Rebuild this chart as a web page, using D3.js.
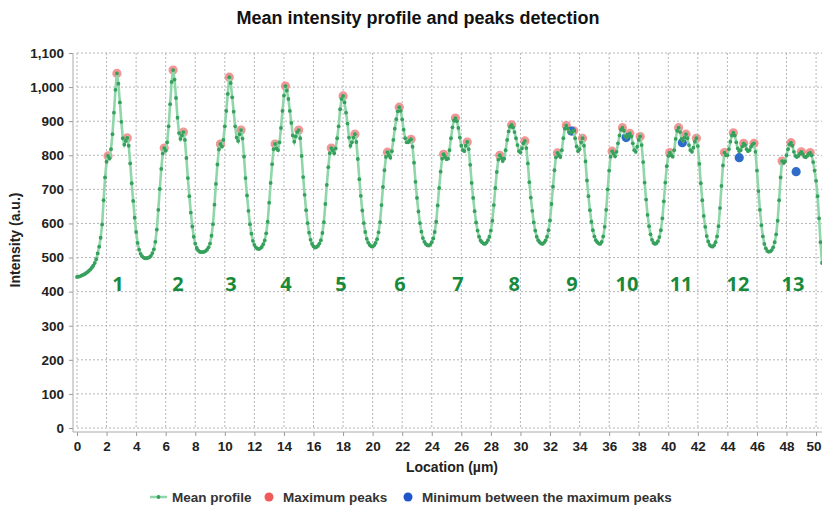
<!DOCTYPE html>
<html>
<head>
<meta charset="utf-8">
<script src="https://cdnjs.cloudflare.com/ajax/libs/d3/7.8.5/d3.min.js"></script>
<style>
  body { margin: 0; background: #fff; }
  svg { display: block; font-family: "Liberation Sans", Arial, sans-serif; }
</style>
</head>
<body>
<svg id="chart" width="822" height="505"></svg>
<script>
// SAMPLING STEP OF THE PROFILE (um)
const step = 0.1;

// MEAN INTENSITY, ONE VALUE EVERY 0.1 um FROM 0 TO 50.4
const intensity = [
  443, 444, 445, 447, 449, 451, 454, 457, 461, 465,
  470, 476, 484, 495, 512, 532, 558, 597, 668, 735,
  781, 798, 791, 818, 862, 925, 992, 1040, 1010, 955,
  898, 850, 831, 842, 851, 828, 776, 718, 666, 617,
  575, 543, 523, 511, 504, 500, 498, 498, 499, 501,
  505, 513, 524, 546, 582, 640, 701, 760, 805, 821,
  814, 838, 885, 950, 1015, 1050, 1022, 968, 910, 865,
  848, 858, 868, 845, 792, 733, 680, 632, 591, 561,
  541, 528, 521, 517, 516, 516, 517, 519, 523, 530,
  541, 564, 598, 655, 716, 773, 817, 833, 826, 845,
  885, 930, 980, 1029, 1012, 970, 928, 885, 852, 842,
  862, 874, 849, 796, 733, 682, 637, 598, 570, 549,
  537, 530, 526, 525, 527, 531, 539, 550, 571, 605,
  661, 719, 774, 818, 833, 820, 815, 838, 880, 930,
  975, 1003, 990, 965, 930, 895, 858, 840, 855, 868,
  874, 850, 798, 736, 684, 639, 601, 573, 552, 540,
  533, 529, 531, 534, 541, 551, 572, 604, 657, 713,
  765, 806, 821, 815, 806, 820, 850, 885, 935, 965,
  974, 955, 925, 893, 852, 828, 838, 852, 862, 839,
  789, 730, 681, 638, 601, 575, 555, 544, 537, 533,
  532, 536, 543, 554, 574, 604, 654, 707, 756, 795,
  809, 800, 793, 812, 845, 878, 906, 929, 941, 930,
  905, 875, 850, 838, 838, 843, 847, 825, 778, 722,
  675, 635, 601, 576, 557, 546, 540, 536, 535, 538,
  545, 556, 575, 605, 653, 704, 752, 790, 803, 795,
  788, 790, 815, 850, 882, 902, 909, 900, 880, 852,
  828, 815, 812, 828, 839, 818, 772, 719, 675, 636,
  603, 579, 561, 550, 545, 541, 540, 544, 551, 561,
  579, 608, 654, 704, 751, 787, 800, 792, 783, 790,
  815, 845, 870, 884, 889, 882, 868, 850, 830, 812,
  808, 820, 835, 842, 821, 776, 721, 676, 637, 603,
  579, 561, 551, 545, 541, 540, 544, 550, 561, 580,
  609, 657, 708, 756, 794, 807, 800, 795, 815, 850,
  878, 887, 878, 868, 866, 869, 872, 850, 826, 812,
  818, 838, 850, 828, 782, 726, 680, 639, 605, 580,
  562, 551, 545, 541, 540, 546, 562, 590, 640, 700,
  755, 796, 812, 805, 797, 810, 835, 858, 875, 881,
  872, 856, 852, 858, 864, 855, 835, 815, 810, 825,
  845, 855, 830, 780, 720, 670, 625, 592, 568, 552,
  543, 540, 542, 548, 560, 580, 615, 665, 720, 768,
  798, 808, 800, 796, 815, 848, 872, 881, 868, 848,
  842, 852, 862, 850, 830, 815, 810, 822, 840, 850,
  827, 775, 718, 668, 622, 590, 563, 547, 537, 533,
  532, 536, 545, 562, 592, 645, 710, 770, 808, 800,
  800, 818, 840, 858, 866, 858, 838, 820, 812, 815,
  826, 835, 830, 818, 812, 815, 825, 832, 835, 810,
  755, 695, 640, 595, 562, 540, 527, 519, 517, 518,
  522, 530, 545, 568, 608, 668, 735, 783, 778, 782,
  800, 818, 832, 837, 828, 810, 798, 795, 798, 805,
  810, 804, 796, 794, 798, 805, 808, 800, 780, 755,
  725, 680, 615, 545, 484
];

// MAXIMUM PEAKS
const maxPeakLoc = [2.1, 2.7, 3.4, 5.9, 6.5, 7.2, 9.7, 10.3, 11.1, 13.4, 14.1, 15.0,
  17.2, 18.0, 18.8, 21.0, 21.8, 22.6, 24.8, 25.6, 26.4, 28.6, 29.4, 30.3,
  32.5, 33.1, 33.6, 34.2, 36.2, 36.9, 37.4, 38.1, 40.1, 40.7, 41.2, 41.9,
  43.8, 44.4, 45.1, 45.8, 47.7, 48.3, 49.0, 49.6];
const maxPeakVal = [798, 1040, 851, 821, 1050, 868, 833, 1029, 874, 833, 1003, 874,
  821, 974, 862, 809, 941, 847, 803, 909, 839, 800, 889, 842,
  807, 887, 872, 850, 812, 881, 864, 855, 808, 881, 862, 850,
  808, 866, 835, 835, 783, 837, 810, 808];

// MINIMUM BETWEEN THE MAXIMUM PEAKS
const minPeakLoc = [33.45, 37.15, 40.95, 44.8, 48.65];
const minPeakVal = [871, 852, 837, 793, 752];

// NUMBERS WRITTEN UNDER EACH PEAK GROUP
const groupLabels = ["1", "2", "3", "4", "5", "6", "7", "8", "9", "10", "11", "12", "13"];
const groupLoc = [2.77, 6.83, 10.42, 14.14, 17.86, 21.85, 25.78, 29.57, 33.49, 37.21, 40.87, 44.72, 48.44];
const groupLevel = 425;

// AXIS TICKS
const xTicks = [0, 2, 4, 6, 8, 10, 12, 14, 16, 18, 20, 22, 24, 26, 28, 30, 32, 34, 36, 38, 40, 42, 44, 46, 48, 50];
const yTicks = [0, 100, 200, 300, 400, 500, 600, 700, 800, 900, 1000, 1100];

const legendItems = ["Mean profile", "Maximum peaks", "Minimum between the maximum peaks"];

drawChart();

function drawChart() {
  var left = 77, right = 822, top = 53, bottom = 428;
  var svg = d3.select("#chart");

  var x = d3.scaleLinear().domain([0, 50.4]).range([left, right]);
  var y = d3.scaleLinear().domain([0, 1100]).range([bottom, top]);

  var profile = intensity.map((v, i) => ({ loc: i * step, val: v }));

  //GRID
  var grid = svg.append("g");
  grid.selectAll(".vgrid").data(xTicks).enter().append("line")
    .attr("x1", (d) => x(d)).attr("x2", (d) => x(d))
    .attr("y1", top).attr("y2", bottom)
    .attr("stroke", "#b5b5b5").attr("stroke-dasharray", "2,2");
  grid.selectAll(".hgrid").data(yTicks).enter().append("line")
    .attr("x1", left).attr("x2", right)
    .attr("y1", (d) => y(d)).attr("y2", (d) => y(d))
    .attr("stroke", "#b5b5b5").attr("stroke-dasharray", "2,2");

  //AXES
  var xAxis = d3.axisBottom(x).tickValues(xTicks).tickSize(4).tickPadding(5).tickFormat(d3.format("d"));
  var yAxis = d3.axisLeft(y).tickValues(yTicks).tickSize(4).tickPadding(5).tickFormat(d3.format(","));

  var gx = svg.append("g").attr("transform", `translate(0, ${bottom + 4})`).call(xAxis);
  var gy = svg.append("g").attr("transform", `translate(${left - 4}, 0)`).call(yAxis);
  [gx, gy].forEach(function (g) {
    g.select(".domain").remove();
    g.selectAll(".tick line").attr("stroke", "#999");
    g.selectAll(".tick text")
      .attr("fill", "#222")
      .style("font-size", "13.5px")
      .style("font-weight", "bold")
      .style("font-family", '"Liberation Sans", Arial, sans-serif');
  });
  //LAST LABEL SITS ON THE RIGHT EDGE, KEEP IT INSIDE
  gx.selectAll(".tick text")
    .filter((d) => d == xTicks[xTicks.length - 1])
    .attr("text-anchor", "end")
    .attr("x", right - x(xTicks[xTicks.length - 1]) - 1);

  svg.append("line")
    .attr("x1", left - 4).attr("x2", right)
    .attr("y1", bottom + 4).attr("y2", bottom + 4)
    .attr("stroke", "#aaa");
  svg.append("line")
    .attr("x1", left - 4).attr("x2", left - 4)
    .attr("y1", top).attr("y2", bottom + 4)
    .attr("stroke", "#aaa");

  //SERIES
  svg.append("clipPath").attr("id", "plotClip")
    .append("rect").attr("x", left - 6).attr("y", top - 10)
    .attr("width", right - left + 6).attr("height", bottom - top + 12);
  var plot = svg.append("g").attr("clip-path", "url(#plotClip)");

  plot.selectAll(".maxPeak").data(maxPeakLoc).enter().append("circle")
    .attr("cx", (d) => x(d))
    .attr("cy", (d, i) => y(maxPeakVal[i]))
    .attr("r", 4.6)
    .attr("fill", "#f07a7a")
    .attr("opacity", 0.8);

  plot.selectAll(".minPeak").data(minPeakLoc).enter().append("circle")
    .attr("cx", (d) => x(d))
    .attr("cy", (d, i) => y(minPeakVal[i]))
    .attr("r", 4.6)
    .attr("fill", "#2f6cc9");

  var line = d3.line().x((d) => x(d.loc)).y((d) => y(d.val));
  plot.append("path")
    .datum(profile)
    .attr("d", line)
    .attr("fill", "none")
    .attr("stroke", "#8fd6a9")
    .attr("stroke-width", 2.6);

  plot.selectAll(".pt").data(profile).enter().append("circle")
    .attr("cx", (d) => x(d.loc))
    .attr("cy", (d) => y(d.val))
    .attr("r", 1.9)
    .attr("fill", "#36a05d");

  //GROUP NUMBERS
  svg.selectAll(".group").data(groupLabels).enter().append("text")
    .attr("x", (d, i) => x(groupLoc[i]))
    .attr("y", y(groupLevel))
    .attr("text-anchor", "middle")
    .attr("dominant-baseline", "central")
    .attr("fill", "#178a3c")
    .style("font-family", '"Open Sans", "Noto Sans", sans-serif')
    .style("font-weight", "bold")
    .style("font-size", "20px")
    .text((d) => d);

  //TITLES
  svg.append("text")
    .attr("x", 418).attr("y", 24)
    .attr("text-anchor", "middle")
    .attr("fill", "#111")
    .style("font-weight", "bold").style("font-size", "18px")
    .text("Mean intensity profile and peaks detection");

  svg.append("text")
    .attr("x", 452).attr("y", 472)
    .attr("text-anchor", "middle")
    .attr("fill", "#222")
    .style("font-weight", "bold").style("font-size", "14px")
    .text("Location (\u00b5m)");

  svg.append("text")
    .attr("transform", "translate(20, 240) rotate(-90)")
    .attr("text-anchor", "middle")
    .attr("fill", "#222")
    .style("font-weight", "bold").style("font-size", "14px")
    .text("Intensity (a.u.)");

  //LEGEND
  var legend = svg.append("g").attr("transform", "translate(0, 497)");
  legend.append("line")
    .attr("x1", 150).attr("x2", 167).attr("y1", 0).attr("y2", 0)
    .attr("stroke", "#8fd6a9").attr("stroke-width", 2.5);
  legend.append("circle").attr("cx", 158.5).attr("cy", 0).attr("r", 1.9).attr("fill", "#36a05d");
  legend.append("circle").attr("cx", 269).attr("cy", 0).attr("r", 4.5).attr("fill", "#f05a5a");
  legend.append("circle").attr("cx", 408).attr("cy", 0).attr("r", 4.5).attr("fill", "#1f55c8");

  var legendX = [172, 283, 422];
  legend.selectAll(".ltext").data(legendItems).enter().append("text")
    .attr("x", (d, i) => legendX[i])
    .attr("y", 0)
    .attr("dominant-baseline", "central")
    .attr("fill", "#333")
    .style("font-weight", "bold").style("font-size", "13.5px")
    .text((d) => d);
}
</script>
</body>
</html>
